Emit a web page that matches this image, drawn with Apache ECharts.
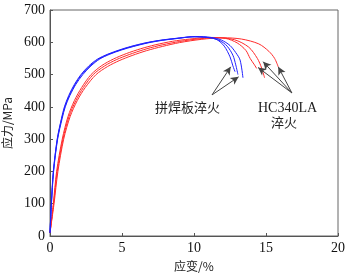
<!DOCTYPE html>
<html>
<head>
<meta charset="utf-8">
<script src="https://cdn.jsdelivr.net/npm/echarts@6/dist/echarts.min.js"></script>
<style>
  html, body { margin: 0; padding: 0; background: #fff; }
  #main { width: 350px; height: 278px; }
</style>
</head>
<body>
<div id="main"></div>
<script>
// x ticks / y ticks
var xTicks = [0, 5, 10, 15, 20];
var yTicks = [0, 100, 200, 300, 400, 500, 600, 700];

// tailor-welded blank, quenched (blue)
var strainB1 = [0, 0.09, 0.23, 0.5, 0.8, 1.0, 1.3, 1.7, 2.15, 2.7, 3.3, 4.0, 4.8, 5.6, 6.6, 7.6, 8.7, 9.9, 11, 11.6, 12.1, 12.5, 12.7, 12.85];
var stressB1 = [10, 100, 200, 300, 365, 400, 435, 470, 500, 527, 548, 563, 576, 587, 598, 606, 612, 617, 615, 608, 588, 555, 527, 509];
var strainB2 = [0, 0.1, 0.25, 0.53, 0.85, 1.06, 1.38, 1.8, 2.28, 2.85, 3.45, 4.15, 4.95, 5.8, 6.8, 7.8, 8.9, 10.1, 11.2, 11.9, 12.5, 12.9, 13.2, 13.4];
var stressB2 = [10, 100, 200, 300, 365, 400, 435, 470, 500, 527, 548, 563, 576, 587, 598, 606, 612, 618, 615, 607, 590, 568, 545, 490];
var strainB3 = [0, 0.1, 0.24, 0.51, 0.82, 1.03, 1.34, 1.75, 2.2, 2.78, 3.38, 4.08, 4.88, 5.7, 6.7, 7.7, 8.8, 10, 11.1, 11.8, 12.3, 12.7, 12.9, 13.05];
var stressB3 = [10, 100, 200, 300, 365, 400, 435, 470, 500, 527, 548, 563, 576, 587, 598, 606, 612, 617, 614, 605, 588, 560, 530, 500];

// HC340LA quenched (red)
var strainR1 = [0, 0.23, 0.46, 0.85, 1.25, 1.7, 2.2, 2.85, 3.6, 4.4, 5.3, 6.3, 7.3, 8.5, 9.7, 11, 12.2, 13.0, 13.6, 13.9, 14.2, 14.35];
var stressR1 = [10, 100, 200, 300, 370, 420, 460, 500, 528, 548, 565, 580, 592, 603, 610, 615, 612, 598, 575, 550, 530, 519];
var strainR2 = [0, 0.25, 0.5, 0.9, 1.32, 1.8, 2.32, 3.0, 3.8, 4.6, 5.5, 6.5, 7.5, 8.7, 10, 11.5, 12.8, 13.8, 14.4, 14.7, 14.9];
var stressR2 = [10, 100, 200, 300, 370, 420, 460, 500, 527, 546, 562, 577, 589, 600, 609, 614, 608, 585, 550, 520, 490];
var strainR3 = [0, 0.28, 0.55, 0.95, 1.4, 1.9, 2.45, 3.2, 4.0, 4.8, 5.7, 6.7, 7.8, 9, 10.5, 12, 13.3, 14.5, 15.2, 15.6, 15.85];
var stressR3 = [10, 100, 200, 300, 370, 420, 460, 500, 525, 543, 559, 574, 587, 599, 609, 614, 610, 595, 572, 550, 524];

// arrows (tail -> head), data coords
var arrowsBlue = [[[11.25, 437], [12.55, 524]], [[11.25, 437], [13.1, 493]]];
var arrowsRed = [[[16.8, 443], [14.45, 522]], [[16.8, 443], [14.8, 540]], [[16.8, 443], [15.85, 524]]];

function pairs(xs, ys) {
  return xs.map(function (x, i) { return [x, ys[i]]; });
}

function curve(xs, ys, color) {
  return {
    type: 'line',
    data: pairs(xs, ys),
    smooth: 0.3,
    showSymbol: false,
    lineStyle: { color: color, width: 1 },
    silent: true
  };
}

function arrowLines(list) {
  return list.map(function (a) {
    return [{ coord: a[0] }, { coord: a[1] }];
  });
}

var serif = 'Liberation Serif, serif';
var cjk = 'Noto Sans CJK SC, sans-serif';

var chart = echarts.init(document.getElementById('main'));
chart.setOption({
  animation: false,
  grid: { left: 50, right: 12, top: 10, bottom: 42, show: true, borderColor: '#666', borderWidth: 1, outerBoundsMode: 'none', containLabel: false },
  xAxis: {
    type: 'value',
    min: xTicks[0],
    max: xTicks[xTicks.length - 1],
    interval: 5,
    name: '应变/%',
    nameLocation: 'middle',
    nameGap: 24,
    nameTextStyle: { fontFamily: cjk, fontSize: 12, color: '#222' },
    axisLine: { lineStyle: { color: '#555' } },
    axisTick: { inside: true, length: 3, lineStyle: { color: '#555' } },
    axisLabel: { fontFamily: serif, fontSize: 14, color: '#111', margin: 5 },
    splitLine: { show: false }
  },
  yAxis: {
    type: 'value',
    min: yTicks[0],
    max: yTicks[yTicks.length - 1],
    interval: 100,
    name: '应力/MPa',
    nameLocation: 'middle',
    nameGap: 33,
    nameTextStyle: { fontFamily: cjk, fontSize: 12, color: '#222' },
    axisLine: { show: true, lineStyle: { color: '#555' } },
    axisTick: { show: true, inside: true, length: 3, lineStyle: { color: '#555' } },
    axisLabel: { fontFamily: serif, fontSize: 14, color: '#111', margin: 5 },
    splitLine: { show: false }
  },
  series: [
    curve(strainR3, stressR3, '#ff2a2a'),
    curve(strainR2, stressR2, '#ff2a2a'),
    curve(strainR1, stressR1, '#ff2a2a'),
    curve(strainB2, stressB2, '#2020ff'),
    curve(strainB3, stressB3, '#2020ff'),
    curve(strainB1, stressB1, '#2020ff'),
    {
      type: 'line',
      data: [],
      silent: true,
      markLine: {
        silent: true,
        symbol: ['none', 'arrow'],
        symbolSize: [6, 8],
        label: { show: false },
        lineStyle: { color: '#444', width: 1, type: 'solid' },
        data: arrowLines(arrowsBlue).concat(arrowLines(arrowsRed))
      }
    }
  ],
  graphic: [
    { type: 'text', left: 155, top: 101, style: { text: '拼焊板淬火', font: '13px ' + cjk, fill: '#222' } },
    { type: 'text', left: 258, top: 101, style: { text: 'HC340LA', font: '14px ' + serif, fill: '#222' } },
    { type: 'text', left: 271, top: 116, style: { text: '淬火', font: '13px ' + cjk, fill: '#222' } }
  ]
});
</script>
</body>
</html>
